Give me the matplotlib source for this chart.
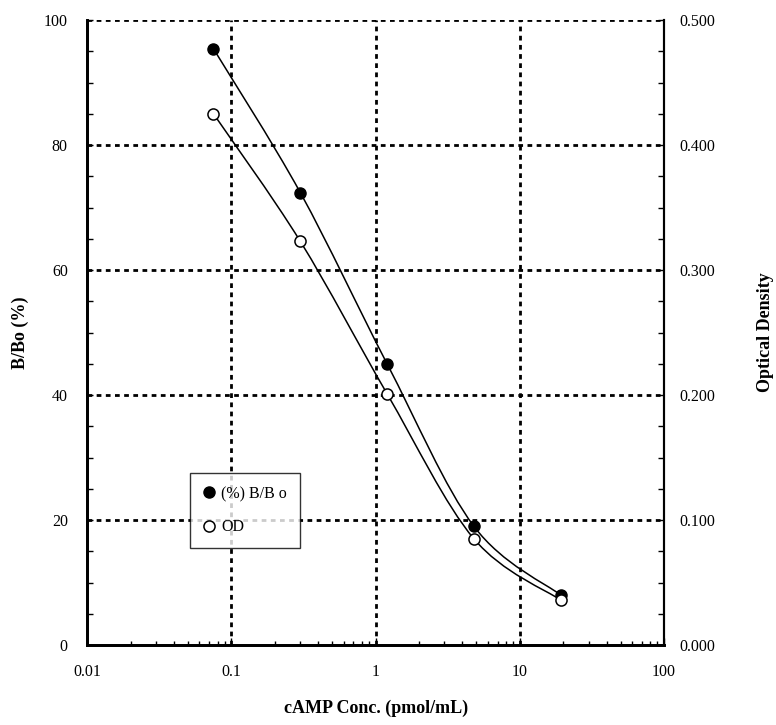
import numpy as np
import matplotlib
matplotlib.use("Agg")
import matplotlib.pyplot as plt
from matplotlib.path import Path
from matplotlib.patches import PathPatch
from matplotlib.lines import Line2D
from matplotlib.ticker import FixedLocator, NullFormatter

# ---- data ----
conc = [0.075, 0.3, 1.2, 4.8, 19.2]
bbo = [95.4, 72.4, 45.0, 19.0, 8.0]
od = [0.425, 0.323, 0.201, 0.085, 0.036]

x_ticks = [0.01, 0.1, 1, 10, 100]
x_tick_labels = ["0.01", "0.1", "1", "10", "100"]
left_ticks = [0, 20, 40, 60, 80, 100]
left_tick_labels = ["0", "20", "40", "60", "80", "100"]
right_ticks = [0.0, 0.1, 0.2, 0.3, 0.4, 0.5]
right_tick_labels = ["0.000", "0.100", "0.200", "0.300", "0.400", "0.500"]

plt.rcParams['font.family'] = ['Liberation Serif', 'DejaVu Serif']

fig = plt.figure(figsize=(7.76, 7.25), dpi=100)
ax = fig.add_axes([0.1125, 0.1103, 0.7432, 0.8621])
ax2 = ax.twinx()

ax.set_xscale('log')
ax.set_xlim(0.01, 100)
ax.set_ylim(0, 100)
ax2.set_ylim(0, 0.5)


def smooth_path(xs, ys):
    lx = np.log10(np.asarray(xs, float))
    y = np.asarray(ys, float)
    P = np.column_stack([lx, y])
    n = len(P)
    verts = [P[0]]
    codes = [Path.MOVETO]
    for i in range(n - 1):
        p0 = P[i - 1] if i > 0 else P[i]
        p1 = P[i]
        p2 = P[i + 1]
        p3 = P[i + 2] if i + 2 < n else P[i + 1]
        c1 = p1 + (p2 - p0) / 6.0
        c2 = p2 - (p3 - p1) / 6.0
        verts += [c1, c2, p2]
        codes += [Path.CURVE4] * 3
    V = np.array(verts)
    V[:, 0] = 10 ** V[:, 0]
    return Path(V, codes)


lw = 1.1
ax.add_patch(PathPatch(smooth_path(conc, bbo), fill=False, edgecolor='black', lw=lw, zorder=3))
ax2.add_patch(PathPatch(smooth_path(conc, od), fill=False, edgecolor='black', lw=lw, zorder=3))

ax.plot(conc, bbo, linestyle='none', marker='o', markersize=8, markerfacecolor='black',
        markeredgecolor='black', markeredgewidth=1, zorder=5)
ax2.plot(conc, od, linestyle='none', marker='o', markersize=8, markerfacecolor='white',
         markeredgecolor='black', markeredgewidth=1.1, zorder=5)

# grid
grid_kw = dict(color='black', lw=2.0, dashes=(1.7, 1.6), zorder=1)
for xv in x_ticks[1:]:
    ax.axvline(xv, **grid_kw)
for yv in left_ticks[1:]:
    ax.axhline(yv, **grid_kw)

# ticks
ax.xaxis.set_major_locator(FixedLocator(x_ticks))
ax.set_xticklabels(x_tick_labels)
minors = [m * 10.0 ** e for e in range(-2, 2) for m in range(2, 10)]
ax.xaxis.set_minor_locator(FixedLocator(minors))
ax.xaxis.set_minor_formatter(NullFormatter())
ax.set_yticks(left_ticks)
ax.set_yticklabels(left_tick_labels)
ax.yaxis.set_minor_locator(FixedLocator(np.arange(0, 101, 5)))
ax2.set_yticks(right_ticks)
ax2.set_yticklabels(right_tick_labels)
ax2.yaxis.set_minor_locator(FixedLocator(np.arange(0, 0.5001, 0.025)))

fs = 11.5
ax.tick_params(axis='x', which='both', direction='in', top=False, labelsize=fs, pad=14,
               width=1, length=5)
ax.tick_params(axis='x', which='minor', length=3)
ax.tick_params(axis='y', which='both', direction='in', right=False, labelsize=fs, pad=14,
               width=1, length=4)
ax2.tick_params(axis='y', which='both', direction='in', labelsize=fs, pad=11,
                width=1, length=4)

for a in (ax, ax2):
    a.spines['top'].set_visible(False)
    a.spines['left'].set_linewidth(2)
    a.spines['bottom'].set_linewidth(2)
    a.spines['right'].set_linewidth(1.5)

ax.set_xlabel("cAMP Conc. (pmol/mL)", fontsize=13, fontweight='bold', labelpad=14)
ax.set_ylabel("B/Bo (%)", fontsize=13, fontweight='bold', labelpad=11)
ax2.set_ylabel("Optical Density", fontsize=13, fontweight='bold', labelpad=30)

handles = [
    Line2D([], [], linestyle='none', marker='o', markersize=8, markerfacecolor='black',
           markeredgecolor='black'),
    Line2D([], [], linestyle='none', marker='o', markersize=8, markerfacecolor='white',
           markeredgecolor='black', markeredgewidth=1.1),
]
leg = ax2.legend(handles, ["(%) B/B o", "OD"], loc='upper left',
                 bbox_to_anchor=(0.178, 0.275), fontsize=11.5, frameon=True, fancybox=False,
                 handlelength=0.8, handletextpad=0.35, borderpad=0.8, labelspacing=1.1,
                 borderaxespad=0)
leg.get_frame().set_edgecolor('black')
leg.get_frame().set_linewidth(1.0)
leg.set_zorder(10)

fig.savefig("out.png", dpi=100)
